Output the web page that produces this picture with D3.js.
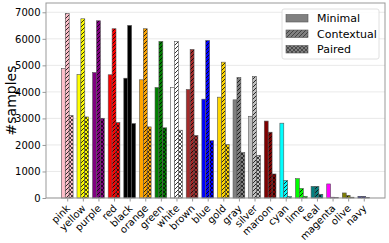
<!DOCTYPE html>
<html><head><meta charset="utf-8">
<script src="https://cdn.jsdelivr.net/npm/d3@7"></script>
<style>body{margin:0;background:#fff}svg{display:block}</style>
</head><body>
<svg id="c" width="389" height="243"></svg>
<script>
const categories = ["pink","yellow","purple","red","black","orange","green","white","brown","blue","gold","gray","silver","maroon","cyan","lime","teal","magenta","olive","navy"];
const seriesNames = ["Minimal","Contextual","Paired"];
const minimal =    [4880,4655,4730,4645,4515,4455,4165,4165,4090,3725,3800,3700,3080,2900,2820,730,440,530,190,60];
const contextual = [6955,6755,6680,6380,6505,6380,5900,5900,5600,5935,5120,4540,4580,2480,665,365,440,30,100,60];
const paired =     [3105,3055,3005,2845,2805,2680,2645,2555,2355,2160,2010,1710,1610,905,60,65,140,15,30,15];
const yTicks = [0,1000,2000,3000,4000,5000,6000,7000];
const values = [minimal, contextual, paired];

const W=389,H=243, L=46, R=385, T=3, B=198;
const svg = d3.select("#c");
const defs = svg.append("defs");
const font = "DejaVu Sans, sans-serif";

function makePatterns(id, col, hatchCol){
  const p1 = defs.append("pattern").attr("id","d_"+id).attr("patternUnits","userSpaceOnUse")
    .attr("width",4).attr("height",4);
  p1.append("rect").attr("width",4).attr("height",4).attr("fill",col);
  p1.append("path").attr("d","M-1,1 L1,-1 M0,4 L4,0 M3,5 L5,3").attr("stroke",hatchCol).attr("stroke-width",0.8);
  const p2 = defs.append("pattern").attr("id","x_"+id).attr("patternUnits","userSpaceOnUse")
    .attr("width",4).attr("height",4);
  p2.append("rect").attr("width",4).attr("height",4).attr("fill",col);
  p2.append("path").attr("d","M-1,1 L1,-1 M0,4 L4,0 M3,5 L5,3 M-1,3 L1,5 M0,0 L4,4 M3,-1 L5,1").attr("stroke",hatchCol).attr("stroke-width",0.7);
}
categories.forEach(c=>makePatterns(c,c,"#000"));
makePatterns("legend","#808080","#333");

const x = d3.scaleLinear().domain([-1.36,20.36]).range([L,R]);
const y = d3.scaleLinear().domain([0,7350]).range([B,T]);
const bw = 0.25;

svg.append("g").selectAll("line").data(yTicks).join("line")
  .attr("x1",L).attr("x2",R).attr("y1",d=>y(d)).attr("y2",d=>y(d))
  .attr("stroke","#e3e3e3").attr("stroke-width",0.8);

const g = svg.append("g");
values.forEach((vals,j)=>{
  g.append("g").selectAll("rect").data(categories).join("rect")
    .attr("x",(d,i)=>x(i+(j-1)*bw-bw/2))
    .attr("width",x(bw)-x(0))
    .attr("y",(d,i)=>y(vals[i]))
    .attr("height",(d,i)=>y(0)-y(vals[i]))
    .attr("fill",d=> j===0 ? d : (j===1 ? `url(#d_${d})` : `url(#x_${d})`))
    .attr("stroke","#555").attr("stroke-width",0.6);
});

svg.append("rect").attr("x",L).attr("y",T).attr("width",R-L).attr("height",B-T)
  .attr("fill","none").attr("stroke","#999").attr("stroke-width",1);

const ya = svg.append("g").attr("transform",`translate(${L},0)`)
  .call(d3.axisLeft(y).tickValues(yTicks).tickSize(3.5).tickPadding(2).tickFormat(d3.format("d")));
ya.select(".domain").remove();
ya.selectAll("line").attr("stroke","#999");
ya.selectAll("text").attr("font-family",font).attr("font-size",10).attr("fill","#000");

const xa = svg.append("g").attr("transform",`translate(0,${B})`)
  .call(d3.axisBottom(x).tickValues(d3.range(categories.length)).tickSize(3.5).tickFormat(i=>categories[i]));
xa.select(".domain").remove();
xa.selectAll("line").attr("stroke","#999");
xa.selectAll("text").attr("font-family",font).attr("font-size",10).attr("fill","#000")
  .attr("text-anchor","end").attr("dy",null).attr("y",0)
  .attr("transform","translate(3,11) rotate(-45)");

svg.append("text").attr("transform",`translate(16,${(T+B)/2}) rotate(-90)`)
  .attr("text-anchor","middle").attr("font-family",font).attr("font-size",14).text("#samples");

const lg = svg.append("g");
lg.append("rect").attr("x",282).attr("y",9).attr("width",97).attr("height",50).attr("rx",2)
  .attr("fill","#fff").attr("fill-opacity",0.85).attr("stroke","#d8d8d8").attr("stroke-width",0.8);
const lf = ["#808080","url(#d_legend)","url(#x_legend)"];
seriesNames.forEach((n,j)=>{
  const cy = 18 + j*15.5;
  lg.append("rect").attr("x",286).attr("y",cy-3.5).attr("width",22).attr("height",7.5)
    .attr("fill",lf[j]).attr("stroke","#555").attr("stroke-width",0.6);
  lg.append("text").attr("x",317).attr("y",cy+4).attr("font-family",font).attr("font-size",11).text(n);
});
</script>
</body></html>
